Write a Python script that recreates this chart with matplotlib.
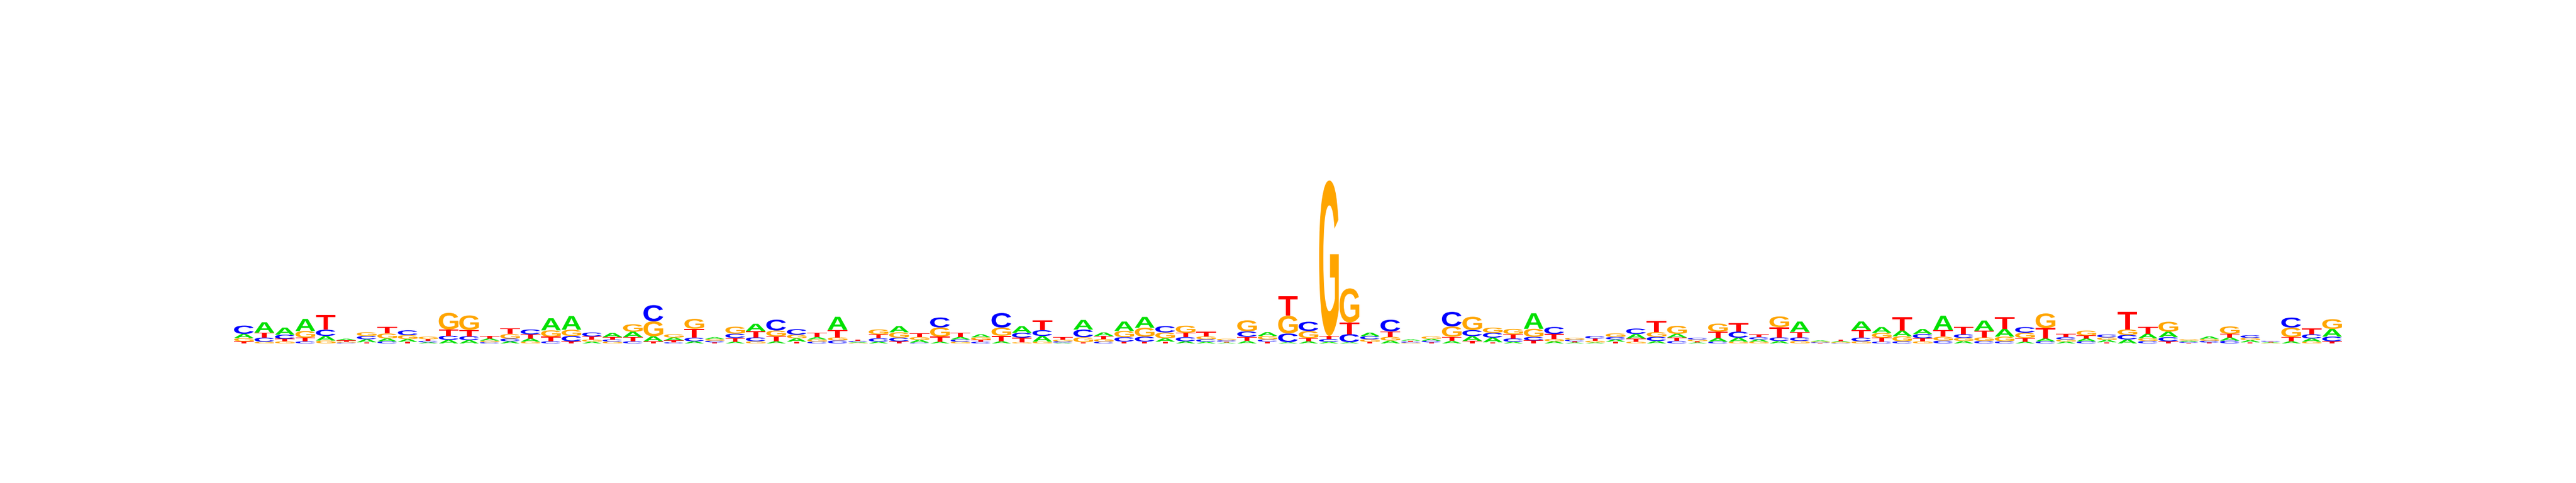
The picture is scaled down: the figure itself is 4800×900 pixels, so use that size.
import matplotlib
matplotlib.use("Agg")
import matplotlib.pyplot as plt
from matplotlib.textpath import TextPath
from matplotlib.patches import PathPatch
from matplotlib.font_manager import FontProperties
from matplotlib.transforms import Affine2D

# letter heights (bits) per position
bases = ["A", "C", "G", "T"]
colors = {"A": "#00e000", "C": "#0000ff", "G": "#ffa500", "T": "#ff0000"}

height_a = [.05, .125, .085, .145, .055, .018, .035, .035, .032, .014,
            .043, .04, .026, .026, .038, .145, .165, .022, .05, .065,
            .06, .034, .026, .022, .022, .088, .026, .04, .028, .157,
            .01, .022, .075, .033, .022, .03, .035, .026, .08, .068,
            .01, .115, .043, .112, .13, .04, .026, .02, .01, .03,
            .045, .015, .026, .02, .015, .043, .035, .015, .022, .03,
            .058, .055, .02, .187, .026, .012, .012, .026, .054, .03,
            .043, .012, .043, .047, .026, .03, .125, .012, .012, .103,
            .07, .07, .06, .172, .03, .122, .092, .022, .034, .022,
            .034, .028, .048, .056, .065, .014, .03, .038, .026, .008,
            .026, .038, .092]
height_c = [.10, .05, .05, .025, .075, .01, .04, .025, .058, .016,
            .05, .047, .016, .032, .058, .026, .065, .047, .026, .026,
            .195, .015, .043, .018, .05, .047, .13, .067, .022, .036,
            .012, .04, .043, .01, .12, .028, .02, .175, .058, .07,
            .015, .092, .022, .054, .06, .077, .05, .03, .015, .065,
            .026, .105, .112, .032, .097, .037, .14, .012, .018, .175,
            .073, .058, .04, .043, .084, .018, .03, .03, .065, .05,
            .03, .02, .022, .073, .027, .043, .043, .008, .006, .043,
            .022, .026, .05, .034, .043, .03, .026, .068, .026, .028,
            .026, .034, .055, .03, .05, .012, .02, .034, .03, .01,
            .12, .05, .056]
height_g = [.04, .02, .025, .08, .035, .012, .045, .06, .048, .03,
            .2, .175, .018, .055, .022, .077, .075, .026, .022, .09,
            .18, .04, .12, .02, .085, .026, .07, .043, .026, .037,
            .008, .06, .065, .034, .11, .02, .033, .1, .015, .022,
            .02, .06, .03, .075, .107, .07, .086, .035, .018, .133,
            .042, .213, .086, 1.87, .41, .03, .045, .01, .03, .125,
            .16, .062, .065, .097, .028, .022, .02, .043, .022, .056,
            .097, .019, .097, .022, .022, .13, .03, .01, .01, .026,
            .058, .06, .026, .047, .037, .043, .056, .064, .176, .026,
            .06, .03, .065, .032, .12, .016, .022, .09, .028, .006,
            .115, .022, .118]
height_t = [.025, .06, .03, .045, .18, .016, .015, .08, .02, .022,
            .075, .075, .028, .07, .05, .055, .025, .037, .028, .05,
            .026, .022, .107, .015, .045, .075, .06, .022, .054, .09,
            .015, .047, .026, .045, .06, .054, .022, .065, .055, .116,
            .03, .015, .037, .022, .022, .022, .052, .055, .012, .05,
            .022, .237, .037, .037, .14, .02, .065, .012, .015, .05,
            .03, .015, .05, .036, .06, .015, .028, .022, .038, .135,
            .042, .016, .077, .1, .037, .122, .065, .006, .02, .092,
            .047, .157, .037, .08, .092, .08, .144, .043, .125, .039,
            .035, .015, .215, .082, .026, .008, .012, .043, .014, .008,
            .05, .068, .026]

font = FontProperties(family="Liberation Sans", weight="bold")


def letter_patch(letter, x, y, w, h, color):
    tp = TextPath((0, 0), letter, size=1, prop=font)
    ext = tp.get_extents()
    t = (Affine2D().translate(-ext.x0, -ext.y0)
         .scale(w / ext.width, h / ext.height).translate(x, y))
    return PathPatch(t.transform_path(tp), facecolor=color,
                     edgecolor="none", lw=0)


fig = plt.figure(figsize=(48, 9), dpi=100)
ax = fig.add_axes([0.0907, 0.2889, 0.8186, 0.3444])

n = len(height_a)
for i in range(n):
    col = sorted(zip([height_a[i], height_c[i], height_g[i], height_t[i]], bases))
    y = 0
    for h, b in col:
        ax.add_patch(letter_patch(b, i + 0.02, y, 0.96, h, colors[b]))
        y += h

ax.set_xlim(0, n)
ax.set_ylim(0, 2)
ax.axis("off")

fig.savefig("out.png", dpi=100)
